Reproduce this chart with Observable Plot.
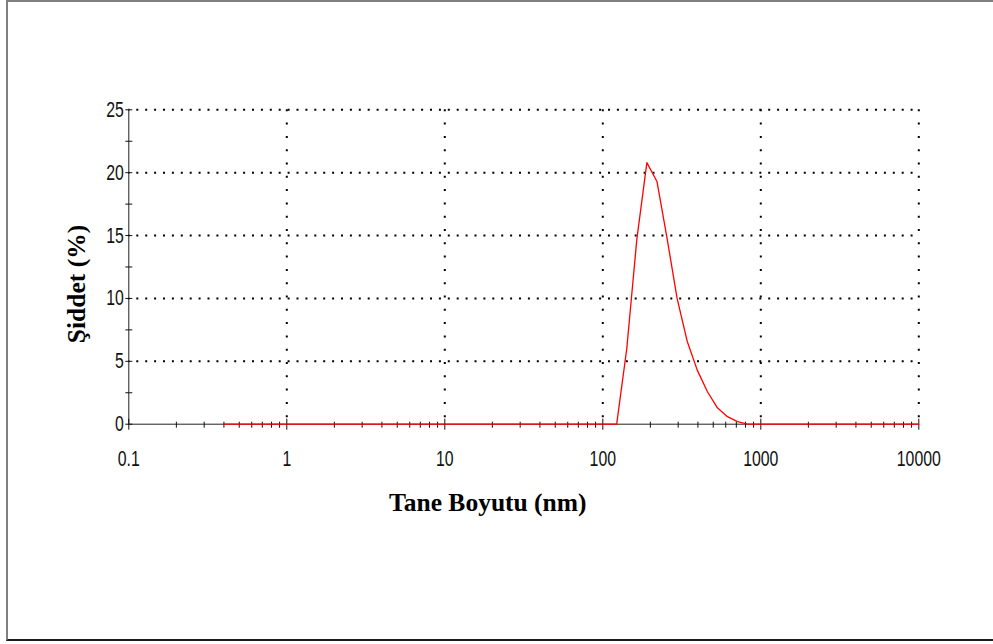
<!DOCTYPE html>
<html><head><meta charset="utf-8">
<script src="https://cdn.jsdelivr.net/npm/d3@7"></script>
<script src="https://cdn.jsdelivr.net/npm/@observablehq/plot@0.6"></script>
<style>
html,body{margin:0;padding:0;background:#fff;}
#wrap{position:relative;width:993px;height:644px;overflow:hidden;}
#chart{position:absolute;left:0;top:0;}
#border{position:absolute;left:6px;top:0;width:992px;height:641px;box-sizing:border-box;border-top:2px solid #7f7f7f;border-left:2px solid #7f7f7f;border-bottom:2px solid #1a1a1a;pointer-events:none;}
</style></head><body>
<div id="wrap"><div id="chart"></div><div id="border"></div></div>
<script>
// Particle size bins (nm)
const sizes = [0.4, 0.4632, 0.5365, 0.6213, 0.7195, 0.8332, 0.9649, 1.117, 1.294, 1.499, 1.736, 2.01, 2.328, 2.696, 3.122, 3.615, 4.187, 4.849, 5.615, 6.503, 7.531, 8.721, 10.1, 11.7, 13.54, 15.69, 18.17, 21.04, 24.36, 28.21, 32.67, 37.84, 43.82, 50.75, 58.77, 68.06, 78.82, 91.28, 105.7, 122.4, 141.8, 164.2, 190.1, 220.2, 255, 295.3, 342, 396.1, 458.7, 531.2, 615.1, 712.4, 825, 955.4, 1106, 1281, 1484, 1718, 1990, 2305, 2669, 3091, 3580, 4145, 4801, 5560, 6439, 7456, 8635, 10000];
// Intensity (%)
const intensity = [0, 0, 0, 0, 0, 0, 0, 0, 0, 0, 0, 0, 0, 0, 0, 0, 0, 0, 0, 0, 0, 0, 0, 0, 0, 0, 0, 0, 0, 0, 0, 0, 0, 0, 0, 0, 0, 0, 0, 0, 6.0, 14.7, 20.8, 19.3, 14.8, 10.0, 6.6, 4.3, 2.6, 1.3, 0.6, 0.2, 0, 0, 0, 0, 0, 0, 0, 0, 0, 0, 0, 0, 0, 0, 0, 0, 0, 0];
const xTicks = [0.1, 1, 10, 100, 1000, 10000];
const xTickLabels = ["0.1", "1", "10", "100", "1000", "10000"];
const yTicks = [0, 5, 10, 15, 20, 25];
const yMinorTicks = [2.5, 7.5, 12.5, 17.5, 22.5];
const xTitle = "Tane Boyutu (nm)";
const yTitle = "Şiddet (%)";

const xMinorTicks = [];
for (const dec of [0.1, 1, 10, 100, 1000]) for (let m = 2; m <= 9; m++) xMinorTicks.push(+(dec * m).toPrecision(3));

const data = sizes.map((s, i) => ({size: s, value: intensity[i]}));

const W = 993, H = 644;
const frameL = 128.3, frameR = 918.3, frameT = 109.3, frameB = 423.7;
const serif = "'Liberation Serif', 'Times New Roman', serif";

const plot = Plot.plot({
  width: W, height: H,
  marginLeft: frameL, marginRight: W - frameR, marginTop: frameT, marginBottom: H - frameB,
  x: {type: "log", domain: [0.1, 10000], axis: null},
  y: {domain: [0, 25], axis: null},
  style: {fontFamily: "'Liberation Sans', Arial, sans-serif", background: "transparent", overflow: "visible"},
  marks: [
    Plot.ruleY(yTicks.slice(1), {y: d => d, stroke: "#000", strokeWidth: 2, strokeDasharray: "2,6.9", strokeDashoffset: -8}),
    Plot.ruleX(xTicks.slice(1), {x: d => d, stroke: "#000", strokeWidth: 2, strokeDasharray: "2,11.3"}),
    Plot.ruleX([0.1], {x: d => d, stroke: "#222", strokeWidth: 1}),
    Plot.ruleY([0], {y: d => d, stroke: "#222", strokeWidth: 1}),
    Plot.ruleX(xMinorTicks, {x: d => d, y1: 0, y2: 0, insetTop: -2, insetBottom: -4, stroke: "#111", strokeWidth: 1}),
    Plot.ruleX(xTicks, {x: d => d, y1: 0, y2: 0, insetTop: -5, insetBottom: -6, stroke: "#111", strokeWidth: 1}),
    Plot.ruleY(yTicks.concat(yMinorTicks), {y: d => d, x1: 0.1, x2: 0.1, insetLeft: -3, insetRight: -4, stroke: "#111", strokeWidth: 1}),
    Plot.line(data, {x: "size", y: "value", stroke: "#ff0000", strokeWidth: 1.3}),
    Plot.text(xTicks, {x: d => d, frameAnchor: "bottom", dy: 41.5, textAnchor: "middle", lineAnchor: "bottom", text: (d, i) => xTickLabels[i], fontSize: 22, fill: "#111"}),
    Plot.text(yTicks, {y: d => d, frameAnchor: "left", dx: -5, textAnchor: "end", lineAnchor: "middle", text: d => String(d), fontSize: 22, fill: "#111"}),
    Plot.text([xTitle], {frameAnchor: "bottom", dx: -36, dy: 87, textAnchor: "middle", lineAnchor: "bottom", text: d => d, fontFamily: serif, fontWeight: "bold", fontSize: 25.5, fill: "#000"}),
    Plot.text([yTitle], {frameAnchor: "left", rotate: -90, dx: -52, dy: 17, textAnchor: "middle", text: d => d, fontFamily: serif, fontWeight: "bold", fontSize: 25.5, fill: "#000"})
  ]
});
// condensed look of the tick labels (first two text marks)
const textGroups = plot.querySelectorAll('g[aria-label="text"]');
[textGroups[0], textGroups[1]].forEach(g => {
  if (!g) return;
  g.querySelectorAll("text").forEach(el => {
    const t = el.getAttribute("transform") || "";
    el.setAttribute("transform", `${t} scale(0.72,1)`);
  });
});
document.getElementById("chart").appendChild(plot);
</script>
</body></html>
